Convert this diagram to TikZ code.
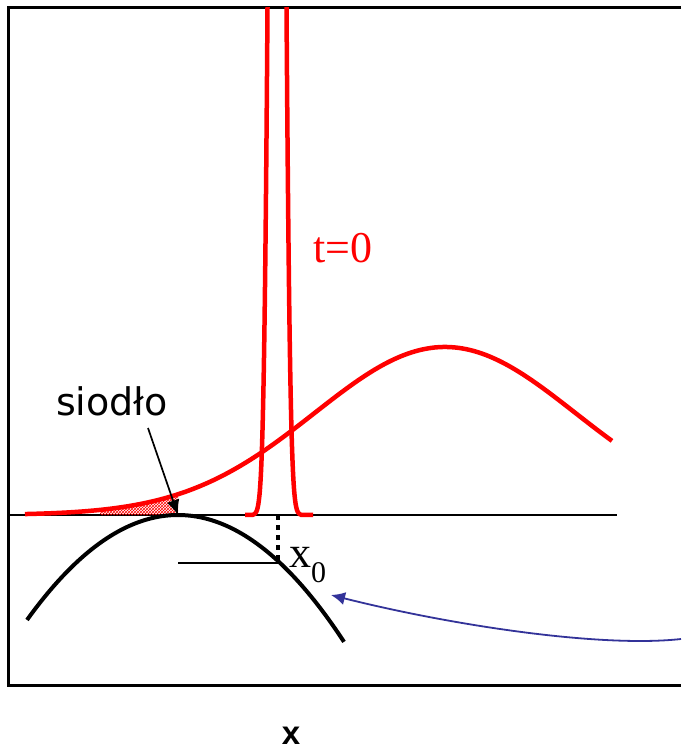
\documentclass[tikz,border=0pt]{standalone}
\usepackage{fontspec}
\setmainfont{Liberation Serif}
\setsansfont{Liberation Sans}
\newfontfamily\labelfont{DejaVu Sans}
\usetikzlibrary{arrows.meta,patterns}
\definecolor{arrowblue}{HTML}{333399}

\begin{document}
\begin{tikzpicture}[x=1pt,y=-1pt,>=Latex,
  redcurve/.style={red,line width=4.5pt},
  potential/.style={black,line width=4pt},
  bigserif/.style={font=\fontsize{44}{44}\selectfont,inner sep=0pt}]
  \useasboundingbox (0,0) rectangle (681,752);
  % frame and axis
  \draw[line width=3pt] (681,8) -- (8,8) -- (8,685) -- (681,685);
  \draw[line width=1.6pt] (8,515) -- (617,515);
  % hatched part under the broad distribution
  \fill[pattern=crosshatch,pattern color=red]
    (100,515) -- plot[domain=100:178,samples=40]
      (\x,{515-168*exp(-((\x-445)/184.6)^2)}) -- (178,515) -- cycle;
  % broad distribution
  \draw[redcurve] plot[domain=25:612,samples=150,smooth]
    (\x,{515-168*exp(-((\x-445)/184.6)^2)});
  % narrow peak at t=0
  \begin{scope}
    \clip (8,8) rectangle (681,685);
    \draw[redcurve] plot[domain=245:313,samples=300]
      (\x,{515-1942*exp(-((\x-277)/8.2)^2)});
  \end{scope}
  % potential
  \draw[potential] plot[domain=27:344,samples=100,smooth]
    (\x,{515+((\x-178)/14.74)^2});
  \coordinate (saddle) at (178,515);
  \coordinate (xtop) at (278,515);
  \coordinate (xbot) at (278,562);
  \coordinate (lineleft) at (178,563);
  \draw[line width=3.5pt,dash pattern=on 5pt off 5pt] (xtop) -- (xbot);
  \draw[line width=1.4pt] (lineleft) -- (xbot |- lineleft);
  % labels
  \node[bigserif,text=red] (tzero) at (343,248) {t=0};
  \node[bigserif,anchor=base west] (xzero) at (289,567)
    {x\raisebox{-15pt}{\fontsize{30}{30}\selectfont 0}};
  \node[font=\labelfont\fontsize{38}{38}\selectfont,inner sep=0pt] (siodlo) at (112,401) {siodło};
  \node[font=\sffamily\bfseries\fontsize{33}{33}\selectfont,inner sep=0pt] (xaxis) at (291,736) {x};
  \coordinate (tail) at (148,428);
  \draw[->,line width=1.7pt,>={Latex[length=15pt,width=13pt]}] (tail) -- (saddle);
  % arrow from the right
  \coordinate (farend) at (681,639);
  \coordinate (arrowtip) at (331,595);
  \draw[->,arrowblue,line width=1.8pt,>={Latex[length=14pt,width=13pt]}]
    (farend) .. controls (600,648) and (450,625) .. (arrowtip);
\end{tikzpicture}
\end{document}
